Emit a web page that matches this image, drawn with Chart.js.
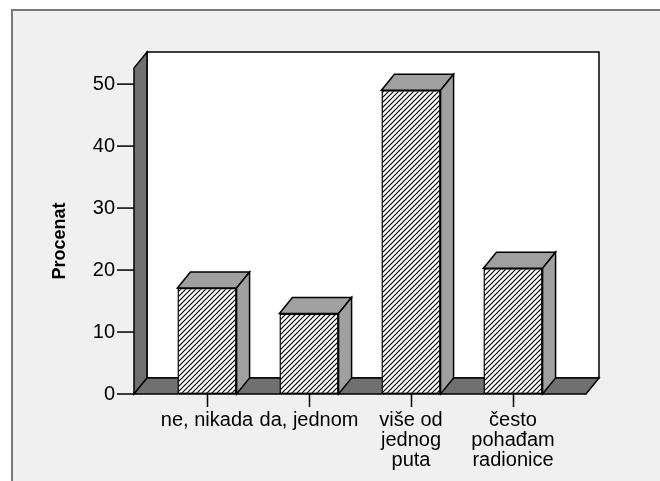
<!DOCTYPE html>
<html>
<head>
<meta charset="utf-8">
<script src="https://cdn.jsdelivr.net/npm/chart.js@4.4.0/dist/chart.umd.min.js"></script>
<style>
  html, body { margin: 0; padding: 0; background: #fff; }
  canvas { display: block; }
</style>
</head>
<body>
<canvas id="chart" width="660" height="481"></canvas>
<script>
// ---- data ----
const categories = [
  ['ne, nikada'],
  ['da, jednom'],
  ['više od', 'jednog', 'puta'],
  ['često', 'pohađam', 'radionice']
];
const values = [17.1, 13.0, 49.0, 20.3];
const yTicks = [0, 10, 20, 30, 40, 50];
const yMax = 52.6;
const axisTitle = 'Procenat';

// ---- look ----
const FONT = 'Arial, "Liberation Sans", sans-serif';
const DX = 13, DY = 16;          // depth of the 3D walls and bars
const WALL = '#707070';
const SHADE = '#a0a0a0';
const BG = '#f0f0f0';

const canvas = document.getElementById('chart');
const ctx = canvas.getContext('2d');

// diagonal hatch for the bar fronts
function makeHatch() {
  const s = 5;
  const c = document.createElement('canvas');
  c.width = s; c.height = s;
  const g = c.getContext('2d');
  g.fillStyle = '#fff';
  g.fillRect(0, 0, s, s);
  g.strokeStyle = '#000';
  g.lineWidth = 1.2;
  g.beginPath();
  g.moveTo(-1, s + 1); g.lineTo(s + 1, -1);
  g.moveTo(-1, 1); g.lineTo(1, -1);
  g.moveTo(s - 1, s + 1); g.lineTo(s + 1, s - 1);
  g.stroke();
  return ctx.createPattern(c, 'repeat');
}

function poly(c, pts, fill) {
  c.beginPath();
  c.moveTo(pts[0][0], pts[0][1]);
  for (let i = 1; i < pts.length; i++) c.lineTo(pts[i][0], pts[i][1]);
  c.closePath();
  c.fillStyle = fill;
  c.fill();
  c.strokeStyle = '#000';
  c.lineWidth = 1.5;
  c.stroke();
}

// walls, floor, bar tops/sides, frame
const frame3d = {
  id: 'frame3d',
  beforeDraw(chart) {
    const c = chart.ctx;
    c.save();
    c.fillStyle = '#fff';
    c.fillRect(0, 0, chart.width, chart.height);
    c.fillStyle = BG;
    c.fillRect(12, 10, chart.width - 12, chart.height - 10);
    c.strokeStyle = '#7a7a7a';
    c.lineWidth = 2;
    c.beginPath();
    c.moveTo(12, chart.height);
    c.lineTo(12, 10);
    c.lineTo(chart.width, 10);
    c.stroke();
    c.restore();
  },
  beforeDatasetsDraw(chart) {
    const c = chart.ctx;
    const a = chart.chartArea;
    const y = chart.scales.y;
    const x0 = a.left - 22, x1 = a.right + 22;
    const yb = y.getPixelForValue(0), yt = y.getPixelForValue(yMax);
    c.save();
    c.lineJoin = 'miter';
    // back wall
    poly(c, [[x0 + DX, yt - DY], [x1 + DX, yt - DY], [x1 + DX, yb - DY], [x0 + DX, yb - DY]], '#fff');
    // left wall
    poly(c, [[x0, yb], [x0, yt], [x0 + DX, yt - DY], [x0 + DX, yb - DY]], WALL);
    // floor
    poly(c, [[x0, yb], [x0 + DX, yb - DY], [x1 + DX, yb - DY], [x1, yb]], WALL);
    // y tick marks
    c.strokeStyle = '#000';
    c.lineWidth = 1.5;
    yTicks.forEach(v => {
      const py = y.getPixelForValue(v);
      c.beginPath();
      c.moveTo(x0 - 17, py);
      c.lineTo(x0, py);
      c.stroke();
    });
    c.restore();
  },
  afterDatasetsDraw(chart) {
    const c = chart.ctx;
    c.save();
    chart.getDatasetMeta(0).data.forEach(bar => {
      const l = bar.x - bar.width / 2, r = bar.x + bar.width / 2;
      const t = bar.y, b = bar.base;
      // top face
      poly(c, [[l, t], [l + DX, t - DY], [r + DX, t - DY], [r, t]], SHADE);
      // side face
      poly(c, [[r, t], [r + DX, t - DY], [r + DX, b - DY], [r, b]], SHADE);
    });
    c.restore();
  },
  afterDraw(chart) {
    const c = chart.ctx;
    c.save();
    c.translate(60, 241);
    c.rotate(-Math.PI / 2);
    c.font = 'bold 18px ' + FONT;
    c.fillStyle = '#000';
    c.textAlign = 'center';
    c.textBaseline = 'middle';
    c.fillText(axisTitle, 0, 0);
    c.restore();
  }
};

new Chart(ctx, {
  type: 'bar',
  data: {
    labels: categories,
    datasets: [{
      data: values,
      backgroundColor: makeHatch(),
      borderColor: '#000',
      borderWidth: 1.5,
      borderSkipped: false,
      categoryPercentage: 1,
      barPercentage: 0.58
    }]
  },
  options: {
    responsive: false,
    animation: false,
    layout: { padding: { left: 0, top: 68, right: 96, bottom: 0 } },
    plugins: { legend: { display: false }, tooltip: { enabled: false } },
    scales: {
      x: {
        afterFit: s => { s.height = 87; },
        grid: {
          display: true, drawOnChartArea: false, offset: false,
          tickLength: 13, tickColor: '#000', tickWidth: 1.5
        },
        border: { display: false },
        ticks: {
          color: '#000', padding: 3, maxRotation: 0, autoSkip: false,
          font: { family: FONT, size: 20, lineHeight: 1.0 }
        }
      },
      y: {
        min: 0,
        max: yMax,
        afterFit: s => { s.width = 156; },
        afterBuildTicks: s => { s.ticks = yTicks.map(v => ({ value: v })); },
        grid: { display: false, drawTicks: false },
        border: { display: false },
        ticks: { color: '#000', padding: 41, font: { family: FONT, size: 20 } }
      }
    }
  },
  plugins: [frame3d]
});
</script>
</body>
</html>
